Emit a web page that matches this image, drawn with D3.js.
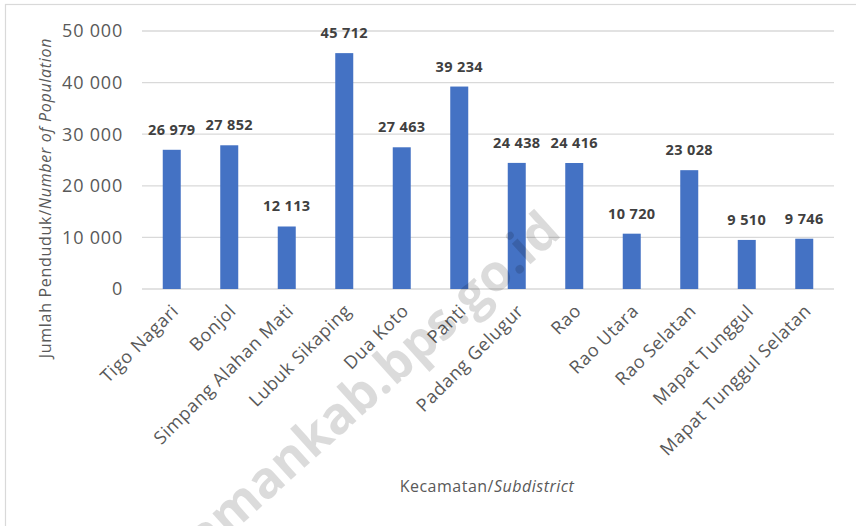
<!DOCTYPE html>
<html>
<head>
<meta charset="utf-8">
<script src="https://cdn.jsdelivr.net/npm/d3@7"></script>
<style>
  html, body { margin: 0; padding: 0; background: #fff; }
  svg { display: block; }
</style>
</head>
<body>
<svg id="chart" width="856" height="526"></svg>
<script>
const categories = ["Tigo Nagari", "Bonjol", "Simpang Alahan Mati", "Lubuk Sikaping", "Dua Koto", "Panti",
  "Padang Gelugur", "Rao", "Rao Utara", "Rao Selatan", "Mapat Tunggul", "Mapat Tunggul Selatan"];
const population = [26979, 27852, 12113, 45712, 27463, 39234, 24438, 24416, 10720, 23028, 9510, 9746];
const yTicks = [0, 10000, 20000, 30000, 40000, 50000];
const yTitleMain = "Jumlah Penduduk/";
const yTitleItalic = "Number of Population";
const xTitleMain = "Kecamatan/";
const xTitleItalic = "Subdistrict";
const watermark = "pasamankab.bps.go.id";

const svg = d3.select("#chart");
const FONT = "'Open Sans', 'Noto Sans', sans-serif";
const fmt = v => d3.format(",")(v).replace(/,/g, " ");

const x = d3.scaleBand().domain(categories).range([143, 833]).paddingInner(0.687).paddingOuter(0.3435);
const y = d3.scaleLinear().domain([0, 50000]).range([289, 31]);

// chart border
svg.append("rect").attr("x", 5.5).attr("y", 4.5).attr("width", 900).attr("height", 600)
  .attr("fill", "#fff").attr("stroke", "#d9d9d9").attr("stroke-width", 1.2);

// gridlines
svg.append("g").selectAll("line").data(yTicks).join("line")
  .attr("x1", 142).attr("x2", 834)
  .attr("y1", d => y(d)).attr("y2", d => y(d))
  .attr("stroke", "#d9d9d9").attr("stroke-width", 1.3);

// y tick labels
svg.append("g").selectAll("text").data(yTicks).join("text")
  .attr("x", 123).attr("y", d => y(d)).attr("dy", "0.36em")
  .attr("text-anchor", "end")
  .attr("font-family", FONT).attr("font-size", 18).attr("letter-spacing", 0.8)
  .attr("fill", "#595959")
  .text(d => fmt(d));

// bars
svg.append("g").selectAll("rect").data(population).join("rect")
  .attr("x", (d, i) => x(categories[i]))
  .attr("width", x.bandwidth())
  .attr("y", d => y(d))
  .attr("height", d => y(0) - y(d))
  .attr("fill", "#4472c4");

// data labels
svg.append("g").selectAll("text").data(population).join("text")
  .attr("x", (d, i) => x(categories[i]) + x.bandwidth() / 2)
  .attr("y", d => y(d) - 15)
  .attr("text-anchor", "middle")
  .attr("font-family", FONT).attr("font-size", 14.5).attr("font-weight", "bold").attr("letter-spacing", 0.4)
  .attr("fill", "#404040")
  .text(d => fmt(d));

// x tick labels
svg.append("g").selectAll("text").data(categories).join("text")
  .attr("transform", d => `translate(${x(d) + x.bandwidth() / 2 + 8},312) rotate(-45)`)
  .attr("text-anchor", "end")
  .attr("font-family", FONT).attr("font-size", 18).attr("letter-spacing", 0.6)
  .attr("fill", "#595959")
  .text(d => d);

// y title
const yt = svg.append("text")
  .attr("transform", "translate(51,198) rotate(-90)")
  .attr("text-anchor", "middle")
  .attr("font-family", FONT).attr("font-size", 16).attr("letter-spacing", 0.7)
  .attr("fill", "#595959");
yt.append("tspan").text(yTitleMain);
yt.append("tspan").attr("font-style", "italic").text(yTitleItalic);

// x title
const xt = svg.append("text")
  .attr("x", 487).attr("y", 492)
  .attr("text-anchor", "middle")
  .attr("font-family", FONT).attr("font-size", 16).attr("letter-spacing", 0.5)
  .attr("fill", "#595959");
xt.append("tspan").text(xTitleMain);
xt.append("tspan").attr("font-style", "italic").text(xTitleItalic);

// watermark
svg.append("text")
  .attr("transform", "translate(563,235) rotate(-42)")
  .attr("text-anchor", "end")
  .attr("font-family", FONT).attr("font-size", 51).attr("font-weight", "bold")
  .attr("fill", "#000").attr("fill-opacity", 0.14)
  .text(watermark);
</script>
</body>
</html>
